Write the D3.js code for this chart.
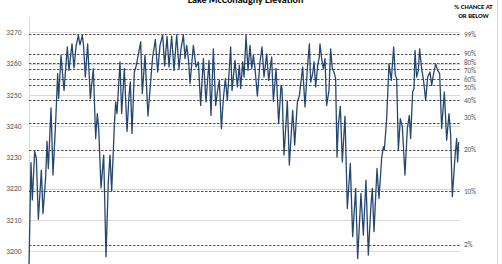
<!DOCTYPE html>
<html>
<head>
<meta charset="utf-8">
<script src="https://cdn.jsdelivr.net/npm/d3@7"></script>
<style>
  html, body { margin: 0; padding: 0; background: #fff; }
  svg { display: block; font-family: Carlito, Calibri, "Liberation Sans", Arial, sans-serif; }
</style>
</head>
<body>
<div id="chart"></div>
<script>
const years = [
  1941.00, 1941.38, 1941.63, 1942.08, 1942.40, 1942.78, 1943.35, 1943.66, 1944.17, 1944.43,
  1944.68, 1945.19, 1945.57, 1946.07, 1946.45, 1946.64, 1947.09, 1947.66, 1948.29, 1948.61,
  1949.18, 1949.56, 1949.94, 1950.39, 1950.70, 1951.15, 1951.40, 1951.72, 1952.16, 1952.67,
  1953.24, 1953.68, 1954.00, 1954.26, 1954.70, 1955.21, 1955.65, 1956.09, 1956.41, 1956.73,
  1957.24, 1957.49, 1957.74, 1958.31, 1958.63, 1959.14, 1959.65, 1960.03, 1960.28, 1960.60,
  1961.04, 1961.42, 1962.25, 1962.56, 1963.07, 1963.64, 1964.21, 1964.53, 1965.04, 1965.48,
  1965.92, 1966.43, 1966.81, 1967.26, 1967.64, 1968.14, 1968.59,
  1969.10, 1969.54, 1969.92, 1970.37, 1970.68, 1971.00, 1971.32, 1971.64, 1972.27, 1972.78,
  1973.22, 1973.66, 1974.17, 1974.68, 1975.25, 1975.63, 1976.07, 1976.52, 1976.84, 1977.22,
  1977.60, 1977.98, 1978.36, 1978.74, 1979.03, 1979.37, 1979.63, 1980.20, 1980.64, 1981.02,
  1981.27, 1981.66, 1981.91, 1982.29, 1982.67, 1983.05, 1983.37, 1983.69, 1984.00, 1984.45,
  1984.95, 1985.33, 1985.71, 1986.22, 1986.60, 1987.17, 1987.49, 1988.00, 1988.50, 1988.95,
  1989.14, 1989.52, 1990.15, 1990.53, 1991.17, 1991.55, 1992.06, 1992.44, 1993.07, 1993.51,
  1993.96, 1994.34, 1994.59, 1994.97, 1995.23, 1995.54, 1995.92, 1996.24,
  1996.36, 1996.68, 1997.00, 1997.31, 1997.63, 1998.07, 1998.39, 1998.71, 1999.02, 1999.34,
  1999.60, 1999.85, 2000.23, 2000.61, 2001.12, 2001.56, 2002.13, 2002.58, 2003.15, 2003.53,
  2004.16, 2004.61, 2005.11, 2005.56, 2006.06, 2006.32, 2006.64, 2007.21, 2007.59, 2008.09,
  2008.41, 2008.60, 2009.05, 2009.49, 2009.93, 2010.38, 2010.69, 2010.95, 2011.27, 2011.65,
  2012.03, 2012.53, 2012.98, 2013.36, 2013.61, 2013.99, 2014.25, 2014.44, 2014.75, 2015.07,
  2015.32, 2015.70, 2016.02, 2016.47, 2016.85, 2017.29, 2017.61, 2017.92, 2018.37, 2018.75,
  2019.13, 2019.51, 2020.02, 2020.46, 2020.91, 2021.22, 2021.54, 2022.05, 2022.36, 2022.55,
  2022.74
];

const elevation = [
  3195.8, 3228.3, 3216.3, 3231.9, 3229.6, 3210.2, 3225.9, 3212.0, 3223.7, 3235.1,
  3226.4, 3245.8, 3224.3, 3241.3, 3256.8, 3248.8, 3262.6, 3251.4, 3265.3, 3257.8,
  3266.3, 3258.6, 3265.3, 3269.0, 3266.0, 3269.0, 3265.3, 3255.7, 3266.3, 3248.8,
  3258.4, 3236.0, 3244.0, 3239.2, 3220.2, 3230.7, 3198.2, 3222.1, 3230.7, 3219.2,
  3240.3, 3247.7, 3244.0, 3260.5, 3244.0, 3258.4, 3238.3, 3249.8, 3254.1, 3237.6,
  3257.3, 3259.4, 3266.9, 3250.4, 3262.6, 3243.2, 3255.7, 3262.1, 3267.7, 3257.3,
  3265.8, 3269.2, 3259.2, 3268.7, 3258.9, 3268.8, 3257.8,
  3269.2, 3258.4, 3264.7, 3269.2, 3261.6, 3265.8, 3261.6, 3253.6, 3265.8, 3258.9,
  3260.5, 3246.6, 3261.6, 3247.7, 3261.0, 3243.4, 3264.7, 3246.6, 3250.9, 3254.6,
  3239.2, 3248.8, 3255.2, 3248.2, 3256.2, 3265.3, 3251.4, 3261.0, 3252.5, 3259.4,
  3252.0, 3260.5, 3255.7, 3269.0, 3257.8, 3265.8, 3258.4, 3262.6, 3258.4, 3249.6,
  3260.5, 3265.3, 3255.7, 3263.1, 3254.6, 3262.1, 3247.9, 3258.4, 3240.8, 3253.0,
  3252.0, 3230.7, 3247.9, 3227.5, 3245.0, 3233.9, 3247.7, 3249.8, 3258.9, 3246.1,
  3258.4, 3266.3, 3254.1, 3256.8, 3260.5, 3252.5, 3259.4, 3262.1,
  3266.3, 3261.6, 3258.4, 3261.6, 3246.6, 3251.4, 3264.7, 3258.4, 3257.3, 3255.2,
  3230.1, 3240.3, 3246.3, 3228.5, 3243.2, 3213.6, 3228.0, 3204.6, 3220.0, 3197.6,
  3218.4, 3205.1, 3222.7, 3198.7, 3214.7, 3220.0, 3206.2, 3226.4, 3216.8, 3229.6,
  3233.3, 3232.3, 3242.4, 3259.9, 3254.6, 3265.3, 3256.2, 3255.2, 3232.3, 3242.4,
  3239.7, 3224.3, 3239.2, 3243.4, 3236.0, 3250.9, 3252.0, 3264.2, 3255.7, 3257.8,
  3264.7, 3258.4, 3255.2, 3248.2, 3255.7, 3257.3, 3253.0, 3256.2, 3259.9, 3257.8,
  3256.8, 3239.2, 3250.9, 3235.5, 3244.0, 3237.1, 3217.4, 3230.1, 3236.0, 3228.5,
  3234.9
];

// exceedance levels drawn as dashed lines, labelled on the right
const pctLabels = ["99%", "90%", "80%", "70%", "60%", "50%", "40%", "30%", "20%", "10%", "2%"];
const pctElevation = [3269.3, 3263.2, 3260.2, 3258.1, 3255.0, 3253.1, 3248.2, 3241.1, 3232.2, 3219.1, 3202.0];

const yTicks = [3200, 3210, 3220, 3230, 3240, 3250, 3260, 3270];

const title = "Lake McConaughy Elevation";
const legendTitle = ["% CHANCE AT", "OR BELOW"];

const W = 502, H = 264;
const left = 29, right = 460;

const svg = d3.select("#chart").append("svg")
  .attr("width", W).attr("height", H)
  .attr("viewBox", `0 0 ${W} ${H}`);

const x = d3.scaleLinear().domain([1941, 2023]).range([left, right]);
const y = d3.scaleLinear().domain([3200, 3270]).range([251, 32.3]);

// chart border on the right
svg.append("line")
  .attr("x1", 497.5).attr("x2", 497.5).attr("y1", 0).attr("y2", H)
  .attr("stroke", "#d9d9d9").attr("stroke-width", 1);

// solid gridlines
svg.append("g")
  .selectAll("line")
  .data(yTicks)
  .join("line")
  .attr("x1", left).attr("x2", right)
  .attr("y1", d => Math.round(y(d)) + 0.5).attr("y2", d => Math.round(y(d)) + 0.5)
  .attr("stroke", "#d9d9d9").attr("stroke-width", 1);

// y axis
const gy = svg.append("g").attr("transform", `translate(${left + 0.5},0)`);
gy.call(d3.axisLeft(y).tickValues(yTicks).tickSize(0).tickPadding(8).tickFormat(d3.format("d")));
gy.select(".domain").remove();
gy.selectAll("text")
  .attr("fill", "#595959")
  .style("font-size", "7.5px")
  .style("font-family", "Carlito, Calibri, 'Liberation Sans', Arial, sans-serif");
gy.append("line")
  .attr("x1", 0).attr("x2", 0)
  .attr("y1", y(3275)).attr("y2", H)
  .attr("stroke", "#d9d9d9").attr("stroke-width", 1);

// percentile dashed lines
svg.append("g")
  .selectAll("line")
  .data(pctElevation)
  .join("line")
  .attr("x1", left).attr("x2", right)
  .attr("y1", d => Math.round(y(d)) + 0.5).attr("y2", d => Math.round(y(d)) + 0.5)
  .attr("stroke", "#404040").attr("stroke-width", 0.9)
  .attr("stroke-dasharray", "2.5,1.5");

// nudges so the crowded labels don't collide (px)
const labelNudge = { "80%": -0.6, "70%": 0.8, "50%": 2, "30%": -5, "20%": -1 };

svg.append("g")
  .selectAll("text")
  .data(pctLabels)
  .join("text")
  .attr("x", 464)
  .attr("y", (d, i) => y(pctElevation[i]) + (labelNudge[d] || 0))
  .attr("dy", "0.35em")
  .attr("fill", "#595959")
  .style("font-size", "7px")
  .text(d => d);

// elevation line
const series = d3.zip(years, elevation);
svg.append("path")
  .datum(series)
  .attr("fill", "none")
  .attr("stroke", "#24466f")
  .attr("stroke-width", 1.3)
  .attr("stroke-linejoin", "round")
  .attr("d", d3.line().x(d => x(d[0])).y(d => y(d[1])));

// title (top is cut off in the original)
svg.append("text")
  .attr("x", 245.5).attr("y", 3)
  .attr("text-anchor", "middle")
  .attr("fill", "#000")
  .style("font-size", "10px")
  .style("font-weight", "bold")
  .text(title);

svg.append("g")
  .selectAll("text")
  .data(legendTitle)
  .join("text")
  .attr("x", 473.5)
  .attr("y", (d, i) => 8.5 + i * 9)
  .attr("text-anchor", "middle")
  .attr("fill", "#000")
  .style("font-size", "6.8px")
  .style("font-weight", "bold")
  .text(d => d);
</script>
</body>
</html>
